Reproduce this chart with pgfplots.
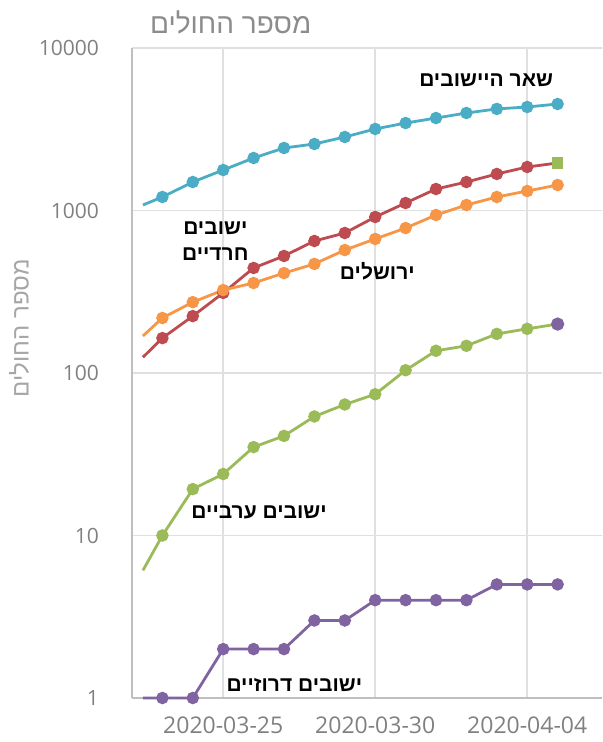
\documentclass[border=0pt]{standalone}
\usepackage{fontspec}
\setmainfont{Open Sans}
\newfontfamily\hebfont[Script=Hebrew]{Liberation Sans}
\TeXXeTstate=1
\usepackage{pgfplots}
\pgfplotsset{compat=1.18}
\definecolor{ccyan}{HTML}{4BACC6}
\definecolor{cred}{HTML}{BE4B50}
\definecolor{corange}{HTML}{F79646}
\definecolor{cgreen}{HTML}{9BBB59}
\definecolor{cpurple}{HTML}{8064A2}
\definecolor{gridgray}{HTML}{E0E0E0}
\definecolor{axisgray}{HTML}{BFBFBF}
\definecolor{tickgray}{HTML}{808080}
\definecolor{titlegray}{HTML}{8C8C8C}
\definecolor{labelgray}{HTML}{A6A6A6}
\begin{document}
\begin{tikzpicture}
\begin{axis}[
  scale only axis, width=235pt, height=325pt,
  ymode=log, xmin=22, xmax=37.46, ymin=1, ymax=10000,
  clip=false,
  axis lines*=left,
  axis line style={color=axisgray, line width=0.8pt},
  grid=major, major grid style={color=gridgray, line width=0.8pt},
  xtick={25,30,35}, xticklabels={2020-03-25,2020-03-30,2020-04-04},
  ytick={1,10,100,1000,10000}, yticklabels={1,10,100,1000,10000},
  minor ytick={}, minor xtick={},
  major tick length=0pt, minor tick length=0pt,
  /pgf/number format/assume math mode=true,
  ticklabel style={color=tickgray},
  yticklabel style={font=\fontsize{10.5}{12}\selectfont, xshift=-13pt},
  xticklabel style={font=\fontsize{11.5}{13}\selectfont, yshift=-6pt},
  every axis plot/.append style={line width=1.4pt, mark size=2.4pt},
]
% other settlements
\addplot[color=ccyan, mark=*, mark indices={2,...,15}] coordinates {
 (22.36,1081) (23,1211) (24,1497) (25,1775) (26,2104) (27,2425) (28,2566) (29,2834)
 (30,3175) (31,3453) (32,3707) (33,3981) (34,4217) (35,4335) (36,4522)};
% Haredi
\addplot[color=cred, mark=*, mark indices={2,...,14}] coordinates {
 (22.36,125) (23,164) (24,224) (25,311) (26,443) (27,525) (28,649) (29,727)
 (30,912) (31,1112) (32,1356) (33,1497) (34,1678) (35,1853) (36,1960)};
\addplot[color=cgreen, only marks, mark=square*, mark size=2.2pt] coordinates {(36,1960)};
% Jerusalem
\addplot[color=corange, mark=*, mark indices={2,...,15}] coordinates {
 (22.36,169) (23,218) (24,273) (25,324) (26,358) (27,412) (28,469) (29,571)
 (30,668) (31,780) (32,938) (33,1081) (34,1211) (35,1318) (36,1435)};
% Arab
\addplot[color=cgreen, mark=*, mark indices={2,...,14}] coordinates {
 (22.36,6.1) (23,10) (24,19.3) (25,23.9) (26,35) (27,41) (28,54) (29,64)
 (30,74) (31,104) (32,137) (33,147) (34,174) (35,187) (36,200)};
\addplot[color=cpurple, only marks, mark=*, mark size=2.6pt] coordinates {(36,200)};
% Druze
\addplot[color=cpurple, mark=*, mark indices={2,...,15}] coordinates {
 (22.36,1) (23,1) (24,1) (25,2) (26,2) (27,2) (28,3) (29,3)
 (30,4) (31,4) (32,4) (33,4) (34,5) (35,5) (36,5)};

\begin{scope}[every node/.style={font=\hebfont\bfseries\fontsize{10.5}{13}\selectfont, text=black, inner sep=0pt}]
\node at (axis cs:33.65,6353) {\beginR שאר היישובים\endR};
\node[align=center] at (axis cs:24.74,649) {\beginR ישובים\endR\\\beginR חרדיים\endR};
\node at (axis cs:30.07,424) {\beginR ירושלים\endR};
\node at (axis cs:26.18,13.8) {\beginR ישובים ערביים\endR};
\node at (axis cs:27.34,1.2) {\beginR ישובים דרוזיים\endR};
\end{scope}
\node[font=\hebfont\fontsize{14}{16}\selectfont, text=titlegray, inner sep=0pt] at (axis description cs:0.21,1.04) {\beginR מספר החולים\endR};
\node[rotate=90, font=\hebfont\fontsize{12}{14}\selectfont, text=labelgray, inner sep=0pt] at (axis description cs:-0.24,0.569) {\beginR מספר החולים\endR};
\end{axis}
\pgfresetboundingbox
\path[use as bounding box] ([shift={(-66pt,-22pt)}]current axis.south west) rectangle ([shift={(0pt,24pt)}]current axis.north east);
\end{tikzpicture}
\end{document}
